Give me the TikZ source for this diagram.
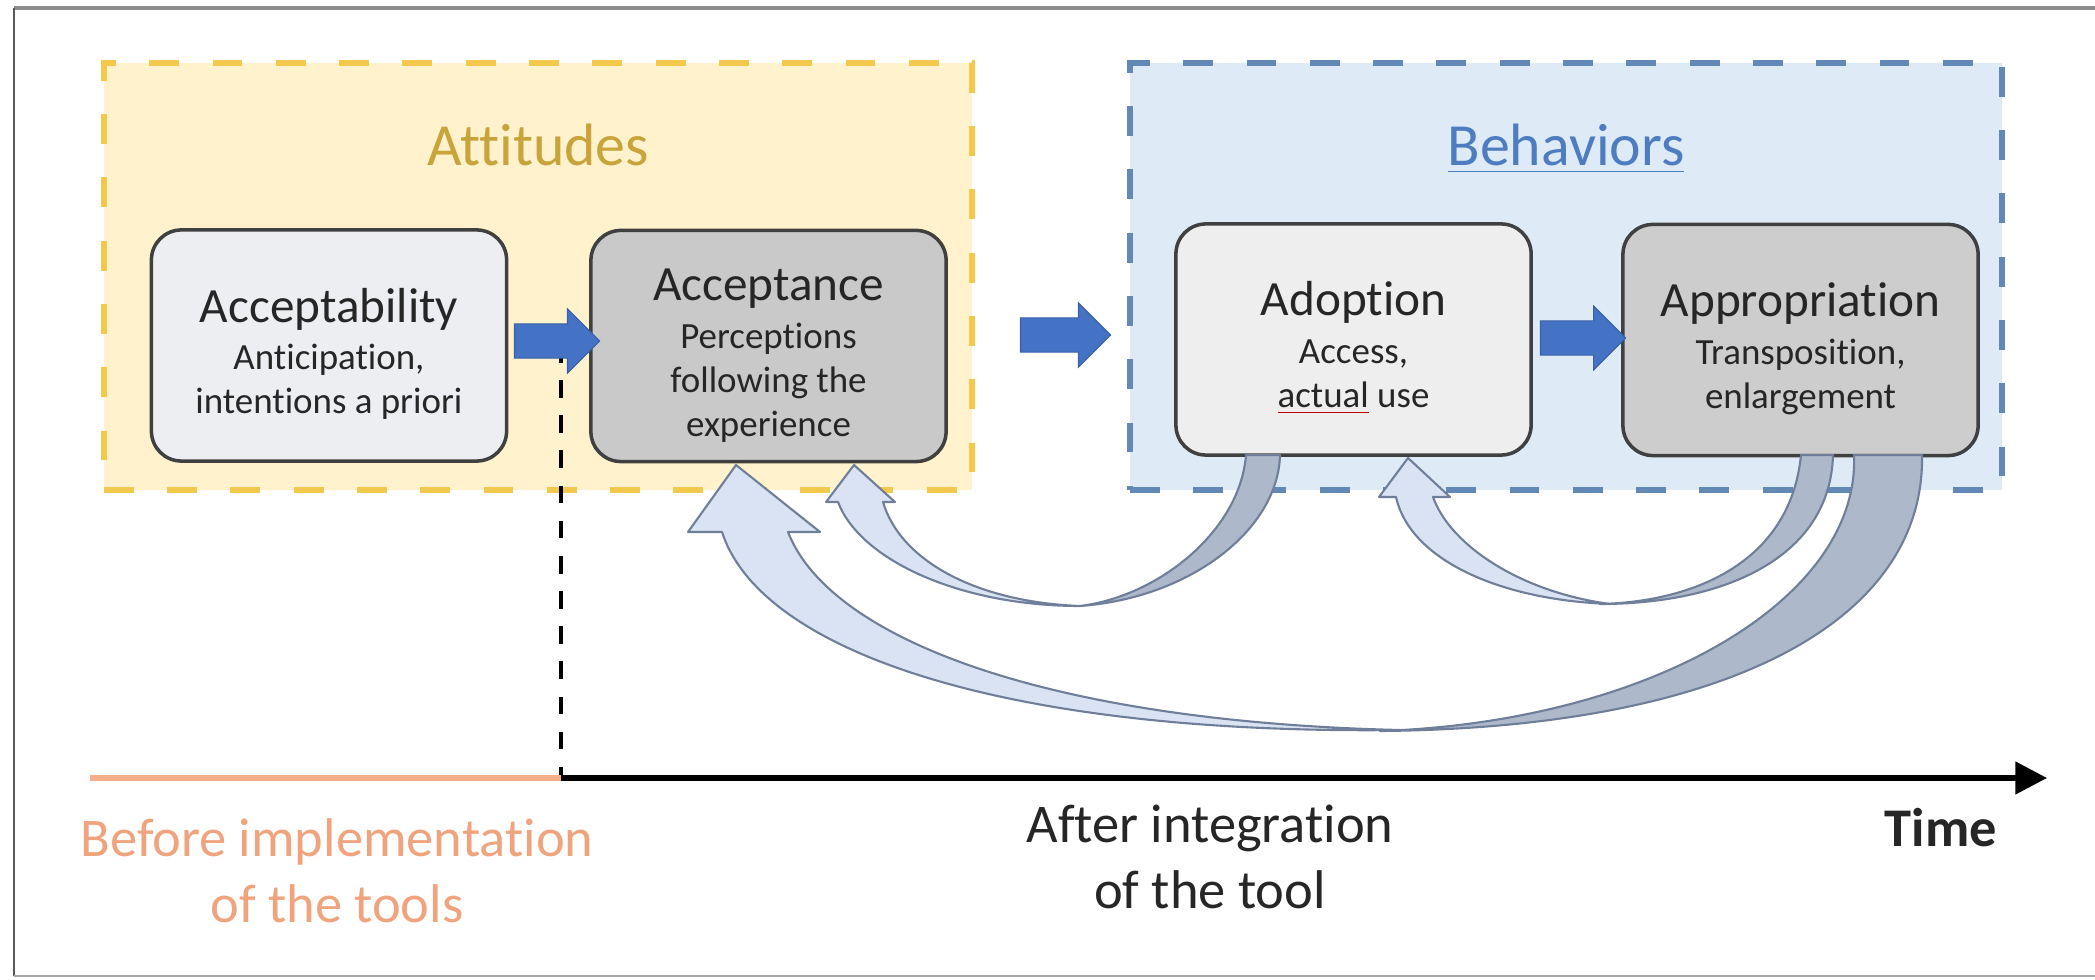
\documentclass[tikz,border=0pt]{standalone}
\usepackage{fontspec}
\setmainfont{Carlito}[Ligatures=NoCommon]
\usetikzlibrary{shapes.arrows,arrows.meta}

\definecolor{attfill}{HTML}{FFF2CC}
\definecolor{attline}{HTML}{F2C94C}
\definecolor{atttext}{HTML}{C9A43B}
\definecolor{behfill}{HTML}{DEEBF7}
\definecolor{behline}{HTML}{6288B6}
\definecolor{behtext}{HTML}{4D7CC0}
\definecolor{stageline}{HTML}{404040}
\definecolor{stagelight}{HTML}{EDEEF1}
\definecolor{stagepale}{HTML}{EEEEEE}
\definecolor{stagedark}{HTML}{C9C9C9}
\definecolor{stagegray}{HTML}{CDCDCD}
\definecolor{flowblue}{HTML}{4472C4}
\definecolor{frontfill}{HTML}{DAE3F3}
\definecolor{backfill}{HTML}{ADB9CA}
\definecolor{bandline}{HTML}{6F7F99}
\definecolor{beforetext}{HTML}{EFA47E}
\definecolor{beforeline}{HTML}{F4AE88}
\definecolor{textdark}{HTML}{262626}
\definecolor{framegray}{HTML}{8C8C8C}

\newcommand\stagename[1]{{\fontsize{14}{16}\selectfont\rule{0pt}{14.5pt}#1}}

\begin{document}
\begin{tikzpicture}[x=0.01cm, y=-0.01cm,
  stage/.style={draw=stageline, line width=1pt, rounded corners=0.3cm,
    minimum width=3.55cm, minimum height=2.31cm, inner sep=0pt, align=center,
    text=textdark, font=\fontsize{10.5}{12.5}\selectfont},
  zone/.style={line width=1.7pt, dash pattern=on 8.5pt off 9.5pt,
    minimum height=4.27cm, inner sep=0pt},
  zonetitle/.style={anchor=base, font=\fontsize{17}{20}\selectfont},
  flow/.style={single arrow, fill=flowblue, draw=flowblue!85!black, line width=0.3pt,
    inner xsep=0pt, inner ysep=0.165cm, minimum width=0pt, minimum height=0.85cm,
    single arrow head extend=0.15cm},
  frontface/.style={fill=frontfill, draw=bandline, line width=0.6pt, line join=round},
  backface/.style={fill=backfill, draw=bandline, line width=0.6pt, line join=round},
  period/.style={align=center, font=\fontsize{15.5}{18.8}\selectfont}]

  \useasboundingbox (0,0) rectangle (2095,980);

  % frame
  \draw[framegray, line width=1.2pt] (2095,8) -- (14,8);
  \draw[black!65, line width=0.8pt] (14,8) -- (14,976);
  \draw[black!35, line width=0.6pt] (14,976) -- (2095,976);

  % the two zones
  \node[zone, draw=attline, fill=attfill, minimum width=8.68cm] (attitudes) at (538,276.5) {};
  \node[zone, draw=behline, fill=behfill, minimum width=8.72cm] (behaviors) at (1566,276.5) {};
  \node[zonetitle, text=atttext] (atttitle) at (538,166) {Attitudes};
  \node[zonetitle, text=behtext] (behtitle) at (1566,166) {\underline{Behaviors}};

  % cut between before and after
  \coordinate (tstart) at (90,778);
  \coordinate (tcut) at (561,778);
  \coordinate (tend) at (2047,778);
  \coordinate (cuttop) at (561,345);
  \draw[line width=1.2pt, dash pattern=on 5pt off 5pt] (cuttop) -- (tcut);

  % stages
  \node[stage, fill=stagelight] (acceptability) at (329,345.5)
    {\stagename{Acceptability}\\[1pt] Anticipation,\\ intentions a priori};
  \node[stage, fill=stagedark] (acceptance) at (768.5,346)
    {\stagename{Acceptance}\\[1pt] Perceptions\\ following the\\ experience};
  \node[stage, fill=stagepale] (adoption) at (1353.5,339.5)
    {\stagename{Adoption}\\[1pt] Access,\\ {\color{red!75!black}\underline{\color{textdark}actual}} use};
  \node[stage, fill=stagegray] (appropriation) at (1800.5,340)
    {\stagename{Appropriation}\\[1pt] Transposition,\\ enlargement};

  % forward arrows
  \node[flow] (flowA) at (548.5,341) {};
  \node[flow, minimum height=0.9cm] (flowB) at (1057,335) {};
  \node[flow] (flowC) at (1574.5,338) {};

  % adoption back to acceptance
  \path[frontface] (1080,606) .. controls (960,606) and (860,560) .. (838,502)
    -- (826,502) -- (854,465) -- (895,502) -- (883,502)
    .. controls (900,560) and (975,602) .. (1080,606) -- cycle;
  \path[backface] (1246,455) -- (1280,455) .. controls (1278,530) and (1190,598) .. (1080,606)
    .. controls (1160,596) and (1240,530) .. (1246,455) -- cycle;

  % appropriation back to adoption
  \path[frontface] (1610,604) .. controls (1500,600) and (1410,560) .. (1396,497)
    -- (1379,497) -- (1408,458) -- (1450,497) -- (1433,497)
    .. controls (1450,545) and (1520,592) .. (1610,604) -- cycle;
  \path[backface] (1801,455) -- (1833,455) .. controls (1830,560) and (1720,604) .. (1600,604)
    .. controls (1690,602) and (1790,565) .. (1801,455) -- cycle;

  % appropriation back to acceptance
  \path[frontface] (1400,730) .. controls (1000,735) and (760,650) .. (722,532)
    -- (688,532) -- (736,465) -- (820,532) -- (788,532)
    .. controls (830,640) and (1050,722) .. (1400,730) -- cycle;
  \path[backface] (1854,455) -- (1922,455) .. controls (1925,620) and (1730,728) .. (1380,731)
    .. controls (1650,722) and (1860,600) .. (1854,455) -- cycle;

  % time line
  \draw[beforeline, line width=1.6pt] (tstart) -- (tcut);
  \draw[line width=1.6pt, -{Triangle[length=9pt,width=9pt]}] (tcut) -- (tend);

  \node[period, text=beforetext] (before) at (337,871) {Before implementation\\of the tools};
  \node[period, text=textdark] (after) at (1210,857) {After integration\\of the tool};
  \node[font=\bfseries\fontsize{15.5}{18.8}\selectfont, text=textdark] (time) at (1941,828) {Time};

\end{tikzpicture}
\end{document}
